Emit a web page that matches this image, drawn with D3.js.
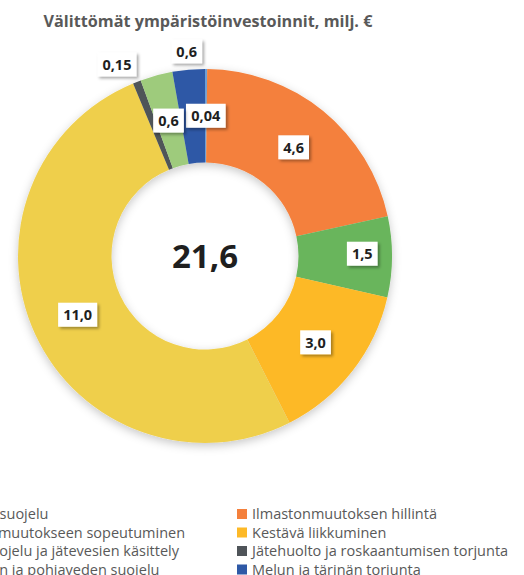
<!DOCTYPE html>
<html>
<head>
<meta charset="utf-8">
<script src="https://cdn.jsdelivr.net/npm/d3@7"></script>
<style>
    body { margin: 0; background: #fff; overflow: hidden; }
    svg { display: block; }
    .title { font-family: "Open Sans", sans-serif; font-weight: bold; font-size: 16.2px; fill: #595959; }
    .total { font-family: "Open Sans", sans-serif; font-weight: bold; font-size: 33px; fill: #1f1f1f; }
    .slice-label { font-family: "Open Sans", sans-serif; font-weight: bold; font-size: 14.5px; fill: #1f1f1f; }
    .legend-text { font-family: "Open Sans", sans-serif; font-size: 14.5px; fill: #595959; }
</style>
</head>
<body>
<div id="chart"></div>
<script>
(function() {
    // data, in legend order (legend is filled row by row)
    var categories = [
        "Luonnonsuojelu",
        "Ilmastonmuutoksen hillintä",
        "Ilmastonmuutokseen sopeutuminen",
        "Kestävä liikkuminen",
        "Vesiensuojelu ja jätevesien käsittely",
        "Jätehuolto ja roskaantumisen torjunta",
        "Maaperän ja pohjaveden suojelu",
        "Melun ja tärinän torjunta"
    ];
    var values = [0.04, 4.6, 1.5, 3.0, 11.0, 0.15, 0.6, 0.6];
    var valueLabels = ["0,04", "4,6", "1,5", "3,0", "11,0", "0,15", "0,6", "0,6"];
    var totalLabel = "21,6";
    var titleText = "Välittömät ympäristöinvestoinnit, milj. €";

    var colors = ["#6c9fd6", "#f4803c", "#69b55b", "#fdb927", "#efcf4c", "#4f5459", "#9ecb7c", "#2e59a6"];

    // manual label moves (pixels from the slice centroid), like the dragged labels in the original
    var labelNudge = [[0, 0], [0, 0], [17, -3], [0, 0], [0, 0], [-37, -61], [0, 0], [-6, -65]];

    var width = 524, height = 575;
    var cx = 205, cy = 256, outerR = 187, innerR = 93.5;

    var svg = d3.select("#chart")
        .append("svg")
            .attr("width", width)
            .attr("height", height);

    var defs = svg.append("defs");
    defs.append("filter")
            .attr("id", "donutShadow")
            .attr("x", "-20%").attr("y", "-20%")
            .attr("width", "140%").attr("height", "140%")
        .append("feDropShadow")
            .attr("dx", 0).attr("dy", 3)
            .attr("stdDeviation", 5)
            .attr("flood-color", "#000")
            .attr("flood-opacity", 0.22);
    defs.append("filter")
            .attr("id", "boxShadow")
            .attr("x", "-30%").attr("y", "-30%")
            .attr("width", "160%").attr("height", "160%")
        .append("feDropShadow")
            .attr("dx", 2).attr("dy", 2)
            .attr("stdDeviation", 1.5)
            .attr("flood-color", "#000")
            .attr("flood-opacity", 0.35);

    svg.append("text")
        .classed("title", true)
        .attr("x", 208)
        .attr("y", 27)
        .attr("text-anchor", "middle")
        .text(titleText);

    var items = categories.map(function(c, i) {
        return {name: c, value: values[i], label: valueLabels[i], color: colors[i], nudge: labelNudge[i]};
    });

    var pie = d3.pie()
        .sort(null)
        .value(function(d) { return d.value; });

    var arc = d3.arc()
        .innerRadius(innerR)
        .outerRadius(outerR);

    var arcs = pie(items);

    var donut = svg.append("g")
        .attr("transform", "translate(" + cx + "," + cy + ")");

    donut.append("g")
            .attr("filter", "url(#donutShadow)")
        .selectAll("path")
        .data(arcs)
        .enter()
        .append("path")
            .attr("d", arc)
            .style("fill", function(d) { return d.data.color; });

    donut.append("text")
        .classed("total", true)
        .attr("text-anchor", "middle")
        .attr("dy", "0.36em")
        .text(totalLabel);

    var labels = donut.selectAll(".label")
        .data(arcs)
        .enter()
        .append("g")
            .classed("label", true)
            .attr("transform", function(d) {
                var c = arc.centroid(d);
                return "translate(" + (c[0] + d.data.nudge[0]) + "," + (c[1] + d.data.nudge[1]) + ")";
            });

    var boxes = labels.append("rect")
        .attr("fill", "#fff")
        .attr("filter", "url(#boxShadow)");

    labels.append("text")
        .classed("slice-label", true)
        .attr("text-anchor", "middle")
        .attr("dy", "0.36em")
        .text(function(d) { return d.data.label; });

    boxes.each(function() {
        var bbox = this.nextSibling.getBBox();
        d3.select(this)
            .attr("x", -bbox.width / 2 - 5)
            .attr("y", -12)
            .attr("width", bbox.width + 10)
            .attr("height", 24);
    });

    // legend, two columns, left one runs off the edge like the original crop
    var colX = [-76, 237], rowY0 = 514, rowH = 18.5;

    var legendItems = svg.append("g")
            .classed("legend", true)
        .selectAll(".item")
        .data(items)
        .enter()
        .append("g")
            .classed("item", true)
            .attr("transform", function(d, i) {
                return "translate(" + colX[i % 2] + "," + (rowY0 + Math.floor(i / 2) * rowH) + ")";
            });

    legendItems.append("rect")
        .attr("x", 0)
        .attr("y", -5)
        .attr("width", 10)
        .attr("height", 10)
        .style("fill", function(d) { return d.color; });

    legendItems.append("text")
        .classed("legend-text", true)
        .attr("x", 15)
        .attr("dy", "0.35em")
        .text(function(d) { return d.name; });
})()
</script>
</body>
</html>
